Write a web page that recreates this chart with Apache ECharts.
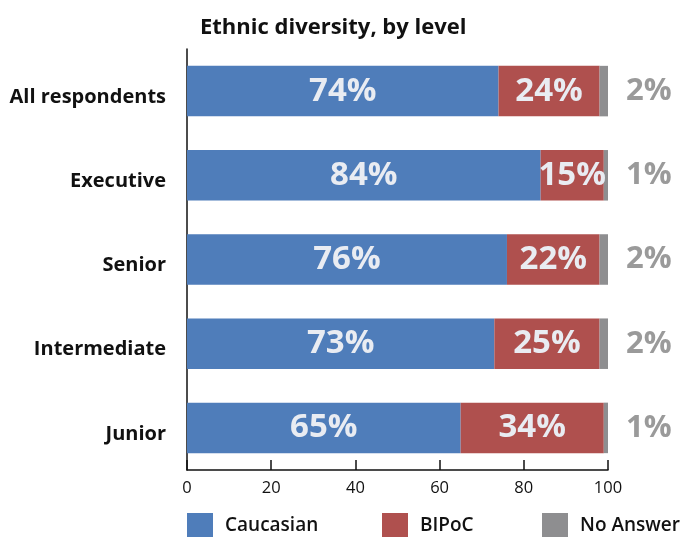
<!DOCTYPE html>
<html>
<head>
<meta charset="utf-8">
<script src="https://cdn.jsdelivr.net/npm/echarts@6/dist/echarts.min.js"></script>
<style>
  html, body { margin: 0; padding: 0; background: #fff; }
  #chart { width: 681px; height: 537px; }
</style>
</head>
<body>
<div id="chart"></div>
<script>
// Ethnic diversity shares per seniority level (percent)
const levels = ['All respondents', 'Executive', 'Senior', 'Intermediate', 'Junior'];
const caucasian = [74, 84, 76, 73, 65];
const bipoc = [24, 15, 22, 25, 34];
const noAnswer = [2, 1, 2, 2, 1];
const xTicks = [0, 20, 40, 60, 80, 100];

const FONT = '"Open Sans", "Noto Sans", sans-serif';
const chart = echarts.init(document.getElementById('chart'));

const innerLabel = {
  show: true,
  position: 'inside',
  formatter: p => p.value + '%',
  color: '#E9ECF2',
  fontFamily: FONT,
  fontWeight: 'bold',
  fontSize: 33
};

chart.setOption({
  animation: false,
  title: {
    text: 'Ethnic diversity, by level',
    left: 200,
    top: 17,
    padding: 0,
    textStyle: { fontFamily: FONT, fontWeight: 'bold', fontSize: 22, color: '#111' }
  },
  legend: [
    { data: ['Caucasian'], left: 187 },
    { data: ['BIPoC'], left: 382 },
    { data: ['No Answer'], left: 542 }
  ].map(l => Object.assign(l, {
    top: 513,
    padding: 0,
    icon: 'rect',
    itemWidth: 26,
    itemHeight: 26,
    itemGap: 12,
    textStyle: { fontFamily: FONT, fontWeight: 600, fontSize: 19, color: '#111', padding: [2, 0, 0, 7] }
  })),
  grid: { left: 187, right: 73, top: 49, bottom: 67 },
  xAxis: {
    type: 'value',
    min: 0,
    max: 100,
    interval: 20,
    axisLine: { show: true, lineStyle: { color: '#111', width: 1.5 } },
    axisTick: { show: true, inside: true, length: 10, lineStyle: { color: '#111', width: 1.5 } },
    splitLine: { show: false },
    axisLabel: {
      margin: 10,
      fontFamily: FONT,
      fontSize: 16.5,
      color: '#111',
      formatter: v => xTicks.includes(v) ? String(v) : ''
    }
  },
  yAxis: {
    type: 'category',
    data: levels,
    inverse: true,
    axisLine: { show: true, lineStyle: { color: '#111', width: 1.5 } },
    axisTick: { show: false },
    axisLabel: {
      margin: 21,
      verticalAlign: 'top',
      lineHeight: 12,
      fontFamily: FONT,
      fontWeight: 'bold',
      fontSize: 20,
      color: '#111'
    }
  },
  series: [
    {
      name: 'Caucasian', type: 'bar', stack: 'total', barWidth: '60%',
      itemStyle: { color: '#4F7DBA' },
      label: innerLabel,
      data: caucasian
    },
    {
      name: 'BIPoC', type: 'bar', stack: 'total',
      itemStyle: { color: '#AF504E' },
      label: innerLabel,
      data: bipoc
    },
    {
      name: 'No Answer', type: 'bar', stack: 'total',
      itemStyle: { color: '#8E8E90' },
      label: {
        show: true,
        position: 'right',
        distance: 18,
        formatter: p => p.value + '%',
        color: '#9A9A9A',
        fontFamily: FONT,
        fontWeight: 'bold',
        fontSize: 31
      },
      data: noAnswer
    }
  ]
});
</script>
</body>
</html>
